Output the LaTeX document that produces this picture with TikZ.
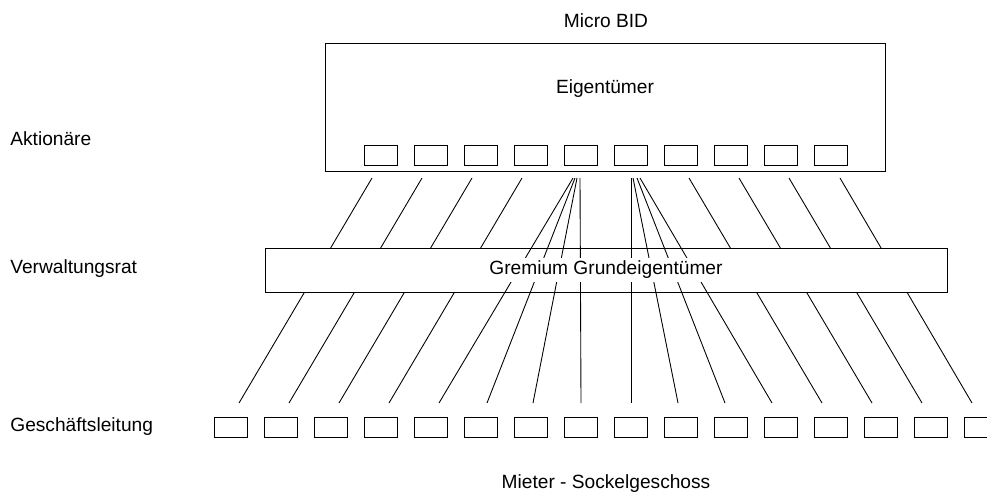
\documentclass[tikz,border=0pt]{standalone}
\usepackage{fontspec}
\setmainfont{Liberation Sans}
\usetikzlibrary{positioning}

\tikzset{
  holder/.style={draw, line width=0.5pt, minimum width=0.66cm, minimum height=0.4cm, inner sep=0pt},
  levellabel/.style={anchor=west, inner sep=0pt},
  link/.style={line width=0.5pt}
}

\begin{document}
\begin{tikzpicture}[x=0.02cm, y=-0.02cm, font=\fontsize{10.9}{13}\selectfont]

		\useasboundingbox (0,0) rectangle (987,495);

		\node (title) at (606,21) {Micro BID};

		\node[draw, line width=0.5pt, minimum width=11.2cm, minimum height=2.56cm] (owners) at (605,107) {};
		\node (ownerstext) at (605,89) {Eigentümer};

		\node[levellabel] (aktionaere) at (10,139) {Aktionäre};
		\node[levellabel] (verwaltung) at (10,269) {Verwaltungsrat};
		\node[levellabel] (leitung) at (10,427) {Geschäftsleitung};

		\node (tenants) at (606,484) {Mieter - Sockelgeschoss};

		% shares of the owners
		\foreach \i in {1,...,10}
		\node[holder] (o\i) at ({380.5+50*(\i-1)},155) {};

		% tenants on the ground floor
		\foreach \i in {1,...,16}
		\node[holder] (m\i) at ({230.5+50*(\i-1)},427) {};

		\foreach \x [count=\i] in {372,422,472,522,573,575,577,580,631,633,637,640,689,739,789,840}
		\coordinate (t\i) at (\x,178);
		\foreach \x [count=\i] in {239,289,339,389,439,487,533,581,631,678,725,772,822,872,922,972}
		\coordinate (b\i) at (\x,403);

		\foreach \i in {1,2,3,4,13,14,15,16}
		\draw[link] (t\i) -- (b\i);

		\node[draw, fill=white, line width=0.5pt, minimum width=13.64cm, minimum height=0.88cm] (board) at (606,270) {};

		\foreach \i in {5,...,12}
		\draw[link] (t\i) -- (b\i);

		\node[fill=white, inner xsep=1pt, inner ysep=2pt] (boardtext) at (board) {Gremium Grundeigentümer};

\end{tikzpicture}
\end{document}
